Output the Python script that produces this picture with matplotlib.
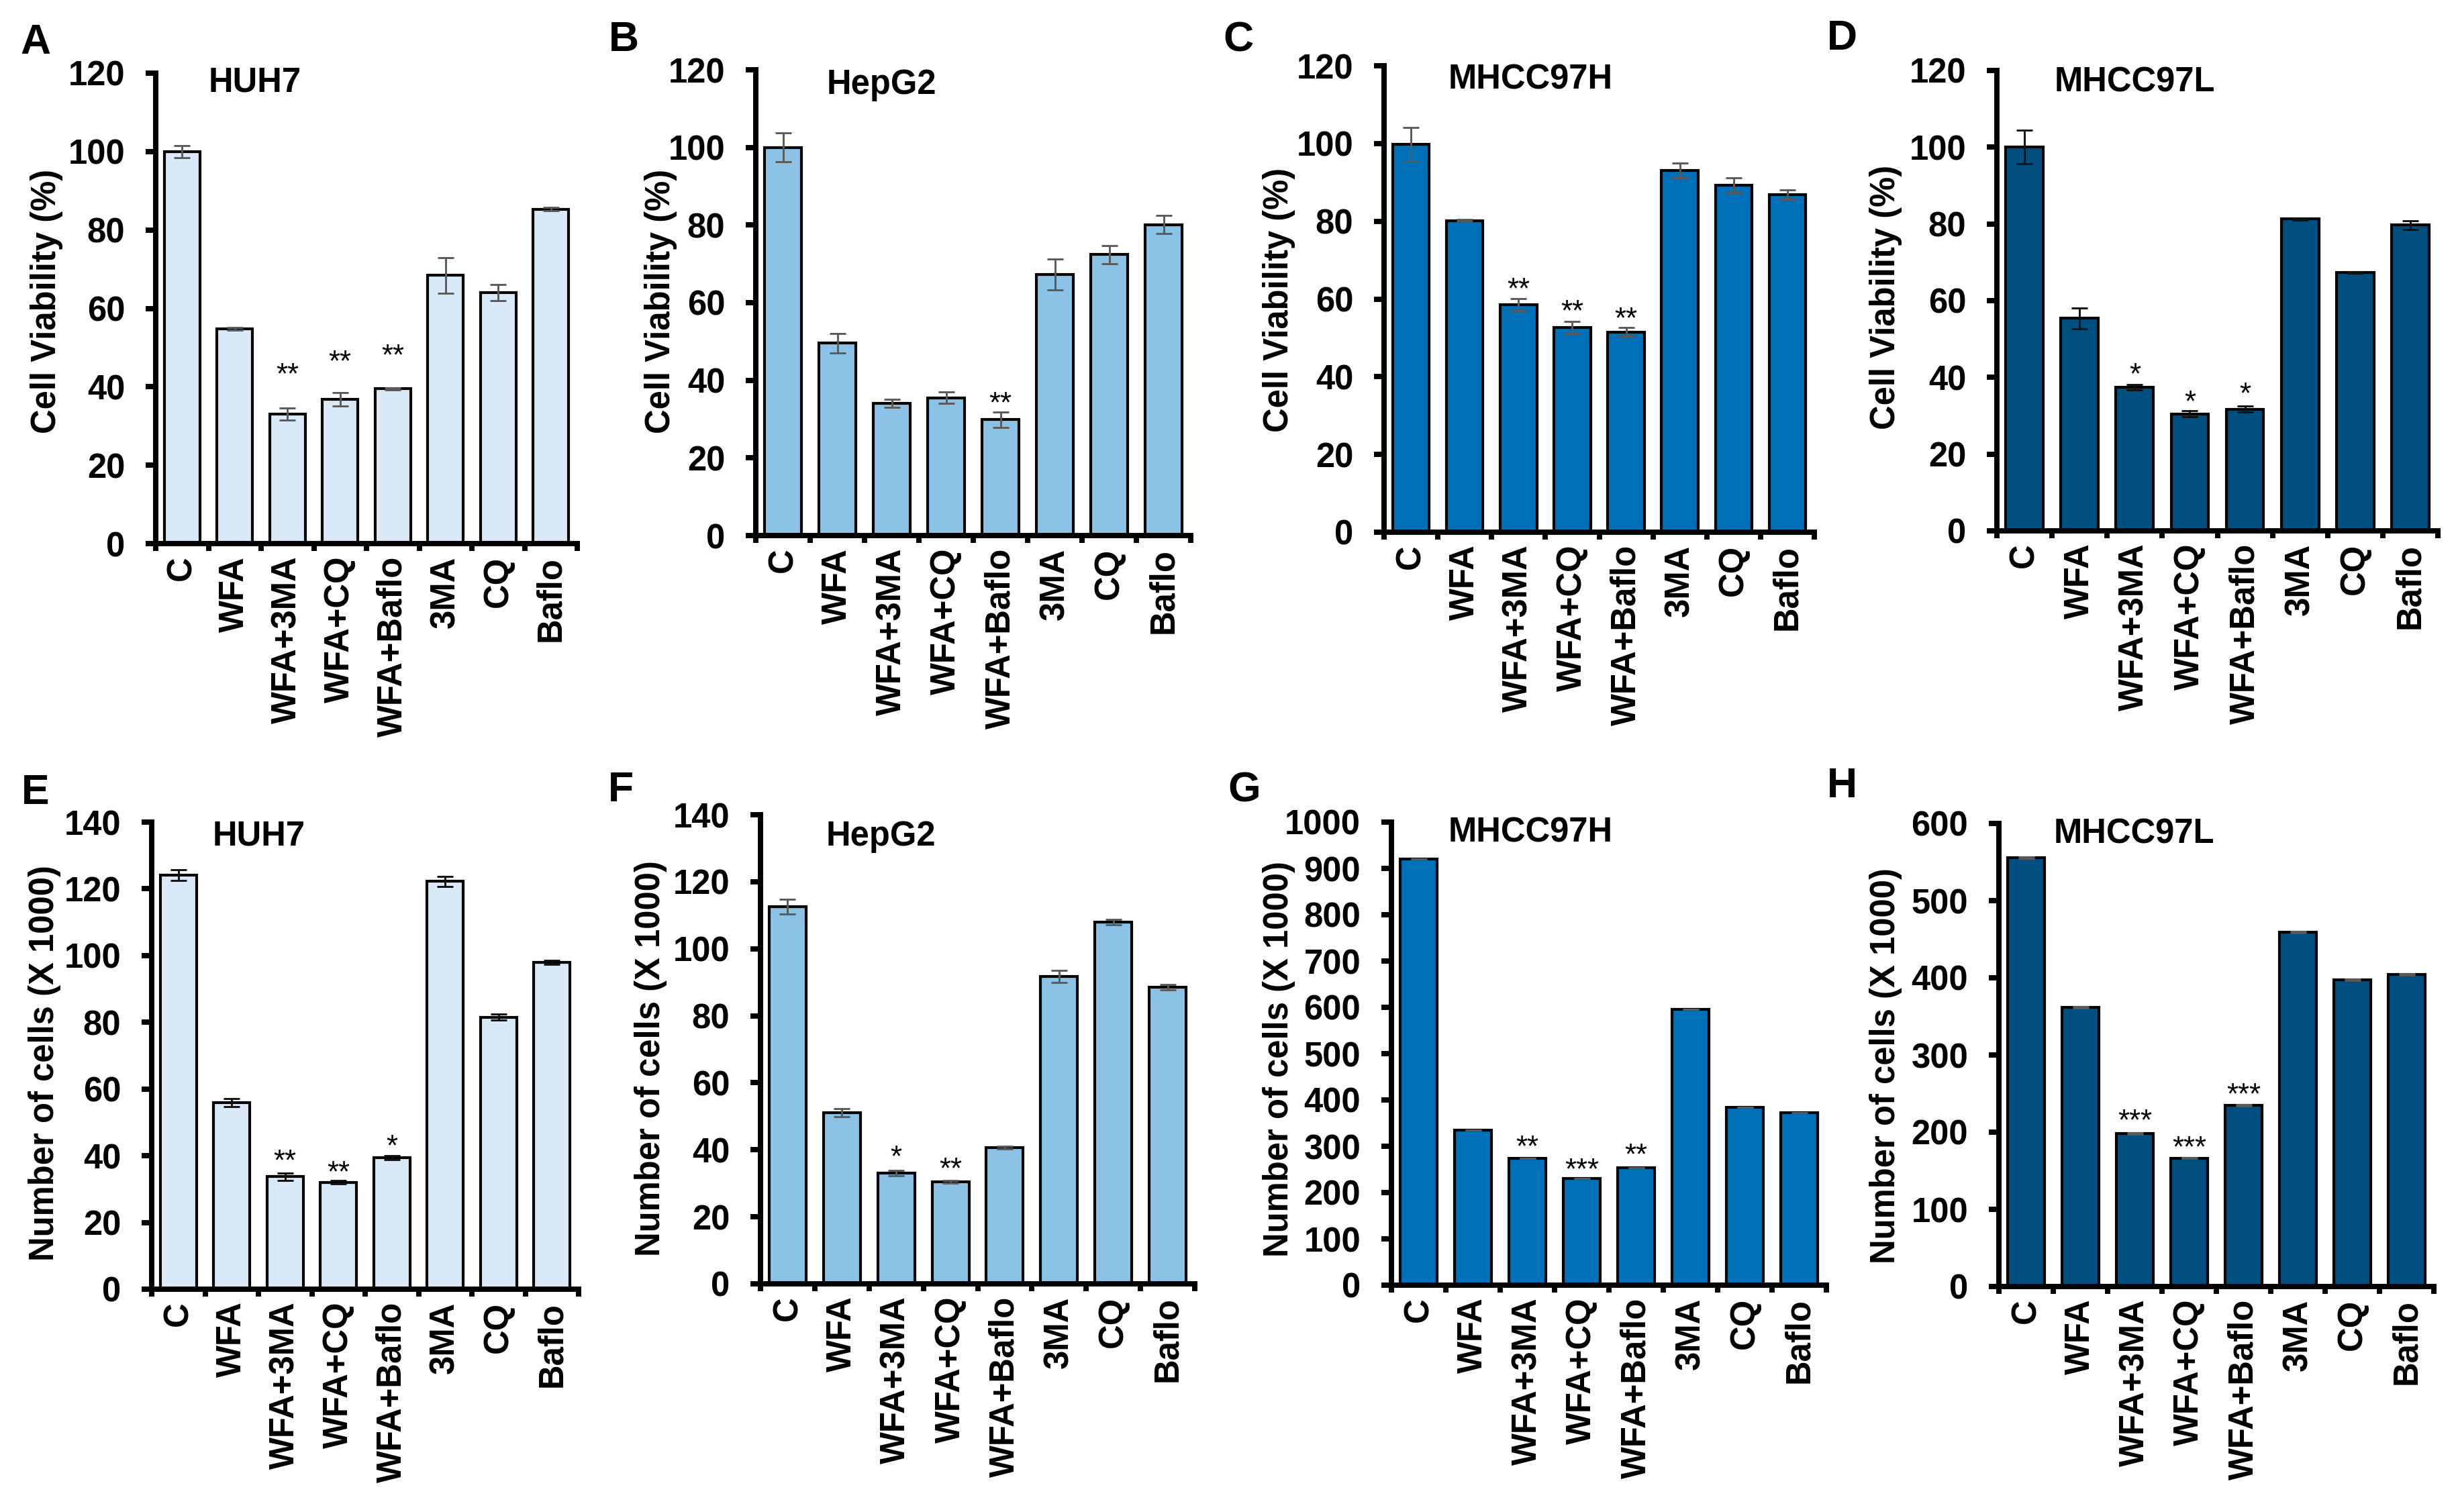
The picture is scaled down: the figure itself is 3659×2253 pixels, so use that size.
import numpy as np
from matplotlib import pyplot as plt

plt.rcParams['font.family'] = ['Liberation Sans', 'DejaVu Sans']
plt.rcParams['font.weight'] = 'bold'

W, H = 3659, 2253

categories = ["C", "WFA", "WFA+3MA", "WFA+CQ", "WFA+Baflo", "3MA", "CQ", "Baflo"]

# ---- viability (%) ----
huh7_viab = [100.0, 54.8, 33.0, 36.8, 39.5, 68.4, 64.0, 85.3]
huh7_viab_err = [1.5, 0.3, 1.5, 1.7, 0.3, 4.5, 2.0, 0.4]
huh7_viab_stars = ["", "", "**", "**", "**", "", "", ""]
huh7_viab_star_y = [0, 0, 45.2, 48.4, 50.0, 0, 0, 0]

hepg2_viab = [100.0, 49.6, 34.1, 35.5, 29.9, 67.3, 72.4, 80.1]
hepg2_viab_err = [3.7, 2.5, 1.0, 1.5, 2.0, 4.0, 2.3, 2.3]
hepg2_viab_stars = ["", "", "", "", "**", "", "", ""]
hepg2_viab_star_y = [0, 0, 0, 0, 36.1, 0, 0, 0]

h97h_viab = [99.8, 80.2, 58.5, 52.7, 51.5, 93.0, 89.3, 86.9]
h97h_viab_err = [4.4, 0.3, 1.6, 1.6, 1.1, 1.9, 1.9, 1.2]
h97h_viab_stars = ["", "", "**", "**", "**", "", "", ""]
h97h_viab_star_y = [0, 0, 64.5, 58.8, 57.0, 0, 0, 0]

h97l_viab = [100.0, 55.4, 37.5, 30.5, 31.7, 81.3, 67.4, 79.7]
h97l_viab_err = [4.4, 2.7, 0.7, 0.8, 0.8, 0.3, 0.2, 1.2]
h97l_viab_stars = ["", "", "*", "*", "*", "", "", ""]
h97l_viab_star_y = [0, 0, 42.9, 35.7, 37.7, 0, 0, 0]

# ---- number of cells (x1000) ----
huh7_num = [124.1, 56.0, 33.7, 32.0, 39.5, 122.2, 81.5, 98.0]
huh7_num_err = [1.7, 1.2, 1.1, 0.5, 0.6, 1.5, 0.9, 0.6]
huh7_num_stars = ["", "", "**", "**", "*", "", "", ""]
huh7_num_star_y = [0, 0, 40.7, 37.4, 45.2, 0, 0, 0]

hepg2_num = [112.5, 51.0, 33.1, 30.5, 40.6, 91.8, 108.0, 88.5]
hepg2_num_err = [2.2, 1.2, 0.8, 0.4, 0.4, 1.8, 0.8, 0.8]
hepg2_num_stars = ["", "", "*", "**", "", "", "", ""]
hepg2_num_star_y = [0, 0, 40.2, 36.6, 0, 0, 0, 0]

h97h_num = [920, 335, 274, 230, 253, 595, 384, 372]
h97h_num_err = [0, 0, 0, 0, 0, 0, 0, 0]
h97h_num_stars = ["", "", "**", "***", "**", "", "", ""]
h97h_num_star_y = [0, 0, 316, 267, 298, 0, 0, 0]

h97l_num = [556, 362, 198, 166.5, 235, 459, 397.6, 404.5]
h97l_num_err = [0.8, 0.8, 0.8, 0.8, 0.8, 0.8, 0.8, 0.8]
h97l_num_stars = ["", "", "***", "***", "***", "", "", ""]
h97l_num_star_y = [0, 0, 225, 190, 259, 0, 0, 0]

cell_lines = ["HUH7", "HepG2", "MHCC97H", "MHCC97L"]
letters = ["A", "B", "C", "D", "E", "F", "G", "H"]

# -----------------------
# layout / style
# -----------------------
fills = ["#DAE9F7", "#8CC2E6", "#0070B8", "#004F7E"]
err_cols = ["#5a5a5a", "#5a5a5a", "#5a5a5a", "#111111",
            "#111111", "#5a5a5a", "#5a5a5a", "#5a5a5a"]

# axes boxes in pixels: left, right, bottom, top
boxes = [(232, 860, 810, 109), (1126, 1774, 798, 104), (2062, 2703, 793, 98), (2975, 3632, 791, 105),
         (226, 862, 1921, 1225), (1133, 1780, 1913, 1214), (2073, 2721, 1915, 1225), (2978, 3626, 1917, 1227)]
letter_pos = [(53, 63), (929, 60), (1845, 60), (2744, 58),
              (53, 1181), (925, 1178), (1854, 1178), (2744, 1171)]
ylab_pos = [(70, 449), (985, 449), (1905, 447), (2810, 443),
            (67, 1584), (970, 1577), (1905, 1578), (2810, 1588)]
title_x = [0.5, 0.8, 0.69, 0.54, 0.64, 0.71, 0.54, 0.51]
title_y = [0.980, 0.968, 0.970, 0.974, 0.970, 0.954, 0.977, 0.977]

panels = [
    (huh7_viab, huh7_viab_err, huh7_viab_stars, huh7_viab_star_y),
    (hepg2_viab, hepg2_viab_err, hepg2_viab_stars, hepg2_viab_star_y),
    (h97h_viab, h97h_viab_err, h97h_viab_stars, h97h_viab_star_y),
    (h97l_viab, h97l_viab_err, h97l_viab_stars, h97l_viab_star_y),
    (huh7_num, huh7_num_err, huh7_num_stars, huh7_num_star_y),
    (hepg2_num, hepg2_num_err, hepg2_num_stars, hepg2_num_star_y),
    (h97h_num, h97h_num_err, h97h_num_stars, h97h_num_star_y),
    (h97l_num, h97l_num_err, h97l_num_stars, h97l_num_star_y),
]
ylims = [120, 120, 120, 120, 140, 140, 1000, 600]
ysteps = [20, 20, 20, 20, 20, 20, 100, 100]
ylabels = ["Cell Viability (%)"] * 4 + ["Number of cells (X 1000)"] * 4

FS = 12.2
fig = plt.figure(figsize=(W / 300, H / 300), dpi=300)

for k, (vals, errs, stars, star_y) in enumerate(panels):
    l, r, b, t = boxes[k]
    ax = fig.add_axes([l / W, 1 - b / H, (r - l) / W, (b - t) / H])
    x = np.arange(len(categories))
    ax.bar(x, vals, width=0.68, color=fills[k % 4], edgecolor="black", linewidth=1.0, zorder=2)
    ax.errorbar(x, vals, yerr=errs, fmt="none", ecolor=err_cols[k],
                elinewidth=0.7, capsize=2.8, capthick=0.7, zorder=3)
    for i, s in enumerate(stars):
        if s:
            ax.annotate(s, (i, star_y[i]), xytext=(0, -0.575 * 10.5), textcoords="offset points",
                        ha="center", va="baseline", fontsize=10.5, fontweight="normal")

    ax.set_xlim(-0.5, len(categories) - 0.5)
    ax.set_ylim(0, ylims[k])
    ax.set_yticks(np.arange(0, ylims[k] + 1, ysteps[k]))
    ax.set_xticks(x)
    ax.set_xticklabels(categories, rotation=90)
    ax.set_xticks(np.arange(-0.5, len(categories), 1), minor=True)
    ax.tick_params(axis="x", which="major", length=0, pad=4.5, labelsize=FS)
    ax.tick_params(axis="x", which="minor", length=2.6, width=1.9, direction="out")
    ax.tick_params(axis="y", length=3.6, width=1.9, pad=7.4, labelsize=FS)
    for sp in ("top", "right"):
        ax.spines[sp].set_visible(False)
    for sp in ("left", "bottom"):
        ax.spines[sp].set_linewidth(1.9)

    ax.text(title_x[k], title_y[k], cell_lines[k % 4], transform=ax.get_xaxis_transform(),
            ha="left", va="center", fontsize=FS)
    fig.text(ylab_pos[k][0] / W, 1 - ylab_pos[k][1] / H, ylabels[k], rotation=90,
             ha="center", va="center", fontsize=FS)
    fig.text(letter_pos[k][0] / W, 1 - letter_pos[k][1] / H, letters[k],
             ha="center", va="center", fontsize=15)

fig.savefig("out.png", dpi=300)
plt.close(fig)
